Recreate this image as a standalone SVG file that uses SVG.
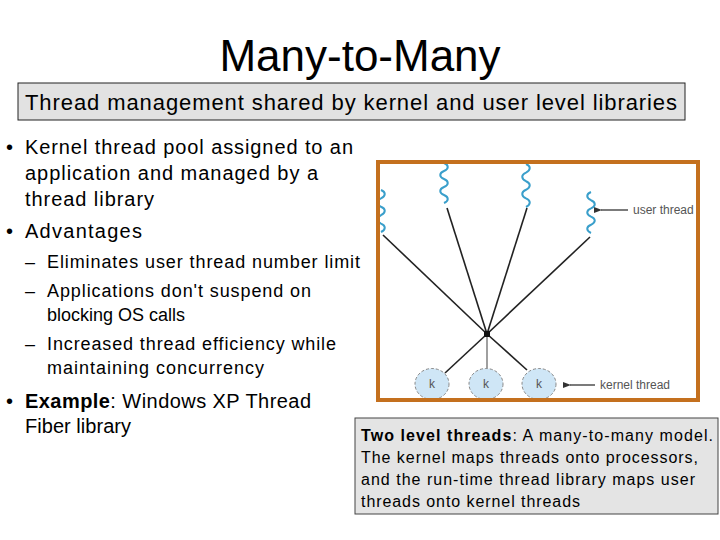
<svg xmlns="http://www.w3.org/2000/svg" width="720" height="540" viewBox="0 0 720 540">
<defs>
<style>
.t{font-family:"Liberation Sans",Arial,sans-serif;fill:#000}
.wave{fill:none;stroke:#3a9fcb;stroke-width:2}
.edge{stroke:#222;stroke-width:1.6;fill:none}
.kn{fill:#cfe6f6;stroke:#888;stroke-width:1;stroke-dasharray:3 2}
.lbl{font-family:"Liberation Sans",Arial,sans-serif;font-size:12px;fill:#555}
</style>
<marker id="ah" markerWidth="8" markerHeight="6" refX="1" refY="3" orient="auto" markerUnits="userSpaceOnUse">
<path d="M8,0 L0,3 L8,6 Z" fill="#333"/>
</marker>
<clipPath id="fig"><rect x="378" y="162" width="320" height="238"/></clipPath>
</defs>
<rect width="720" height="540" fill="#fff"/>
<text class="t" x="360" y="71" font-size="44" text-anchor="middle">Many-to-Many</text>
<g id="subtitle">
<rect x="18" y="83" width="667" height="37" fill="#e2e2e2" stroke="#222" stroke-width="1"/>
<text class="t" x="25" y="110" font-size="22" textLength="652" lengthAdjust="spacing">Thread management shared by kernel and user level libraries</text>
</g>
<g id="bullets">
<text class="t" x="6" y="154" font-size="20">•</text>
<text class="t" x="25" y="154" font-size="20" textLength="328" lengthAdjust="spacing">Kernel thread pool assigned to an</text>
<text class="t" x="25" y="180" font-size="20" textLength="293" lengthAdjust="spacing">application and managed by a</text>
<text class="t" x="25" y="206" font-size="20" textLength="129" lengthAdjust="spacing">thread library</text>
<text class="t" x="6" y="238" font-size="20">•</text>
<text class="t" x="25" y="238" font-size="20" textLength="117" lengthAdjust="spacing">Advantages</text>
<text class="t" x="25" y="268" font-size="18">–</text>
<text class="t" x="47" y="268" font-size="18" textLength="313" lengthAdjust="spacing">Eliminates user thread number limit</text>
<text class="t" x="25" y="297" font-size="18">–</text>
<text class="t" x="47" y="297" font-size="18" textLength="264" lengthAdjust="spacing">Applications don't suspend on</text>
<text class="t" x="47" y="321" font-size="18" textLength="138" lengthAdjust="spacing">blocking OS calls</text>
<text class="t" x="25" y="350" font-size="18">–</text>
<text class="t" x="47" y="350" font-size="18" textLength="289" lengthAdjust="spacing">Increased thread efficiency while</text>
<text class="t" x="47" y="374" font-size="18" textLength="217" lengthAdjust="spacing">maintaining concurrency</text>
<text class="t" x="6" y="408" font-size="20">•</text>
<text class="t" x="25" y="408" font-size="20" textLength="286" lengthAdjust="spacing"><tspan font-weight="bold">Example</tspan>: Windows XP Thread</text>
<text class="t" x="25" y="433" font-size="20" textLength="106" lengthAdjust="spacing">Fiber library</text>
</g>
<g id="figure">
<rect x="378" y="162" width="320" height="238" fill="#fff"/>
<g clip-path="url(#fig)">
<g id="connectors">
<line class="edge" x1="383" y1="235" x2="487" y2="334"/>
<line class="edge" x1="447" y1="208" x2="487" y2="334"/>
<line class="edge" x1="527" y1="208" x2="487" y2="334"/>
<line class="edge" x1="590" y1="237" x2="487" y2="334"/>
<line class="edge" x1="487" y1="334" x2="445" y2="373"/>
<line x1="487" y1="334" x2="487" y2="368" stroke="#888" stroke-width="1.6"/>
<line class="edge" x1="487" y1="334" x2="527" y2="370"/>
<rect x="484" y="331" width="6" height="6" fill="#111"/>
<line x1="628" y1="210" x2="601" y2="210" stroke="#333" stroke-width="1.3" marker-end="url(#ah)"/>
<line x1="595" y1="385" x2="570" y2="385" stroke="#333" stroke-width="1.3" marker-end="url(#ah)"/>
</g>
<g id="user1"><path class="wave" d="M381,190 c5,2 5,6 0,8.4 c-5,2 -5,6 0,8.4 c5,2 5,6 0,8.4 c-5,2 -5,6 0,8.4 c5,2 5,6 0,8.4"/></g>
<g id="user2"><path class="wave" d="M444,163 c5,2 5,6 0,8 c-5,2 -5,6 0,8 c5,2 5,6 0,8 c-5,2 -5,6 0,8 c5,2 5,6 0,8"/></g>
<g id="user3"><path class="wave" d="M526,164 c5,2 5,6 0,8.6 c-5,2 -5,6 0,8.6 c5,2 5,6 0,8.6 c-5,2 -5,6 0,8.6 c5,2 5,6 0,8.6"/></g>
<g id="user4"><path class="wave" d="M591,192 c-5,2 -5,6 0,8.2 c5,2 5,6 0,8.2 c-5,2 -5,6 0,8.2 c5,2 5,6 0,8.2 c-5,2 -5,6 0,8.2"/></g>
<g id="k1"><ellipse class="kn" cx="432" cy="384" rx="17" ry="15.5"/><text class="lbl" x="432" y="388" text-anchor="middle">k</text></g>
<g id="k2"><ellipse class="kn" cx="486" cy="384" rx="17" ry="15.5"/><text class="lbl" x="486" y="388" text-anchor="middle">k</text></g>
<g id="k3"><ellipse class="kn" cx="539" cy="384" rx="17" ry="15.5"/><text class="lbl" x="539" y="388" text-anchor="middle">k</text></g>
<text class="lbl" x="633" y="214">user thread</text>
<text class="lbl" x="600" y="389">kernel thread</text>
</g>
<rect x="378" y="162" width="320" height="238" fill="none" stroke="#c4701e" stroke-width="4"/>
</g>
<g id="caption">
<rect x="355" y="418" width="363" height="96" fill="#e4e4e4" stroke="#444" stroke-width="1"/>
<text class="t" x="361" y="441" font-size="16" textLength="352" lengthAdjust="spacing"><tspan font-weight="bold">Two level threads</tspan>: A many-to-many model.</text>
<text class="t" x="361" y="463" font-size="16" textLength="337" lengthAdjust="spacing">The kernel maps threads onto processors,</text>
<text class="t" x="361" y="485" font-size="16" textLength="334" lengthAdjust="spacing">and the run-time  thread library maps user</text>
<text class="t" x="361" y="507" font-size="16" textLength="219" lengthAdjust="spacing">threads onto kernel threads</text>
</g>
</svg>
